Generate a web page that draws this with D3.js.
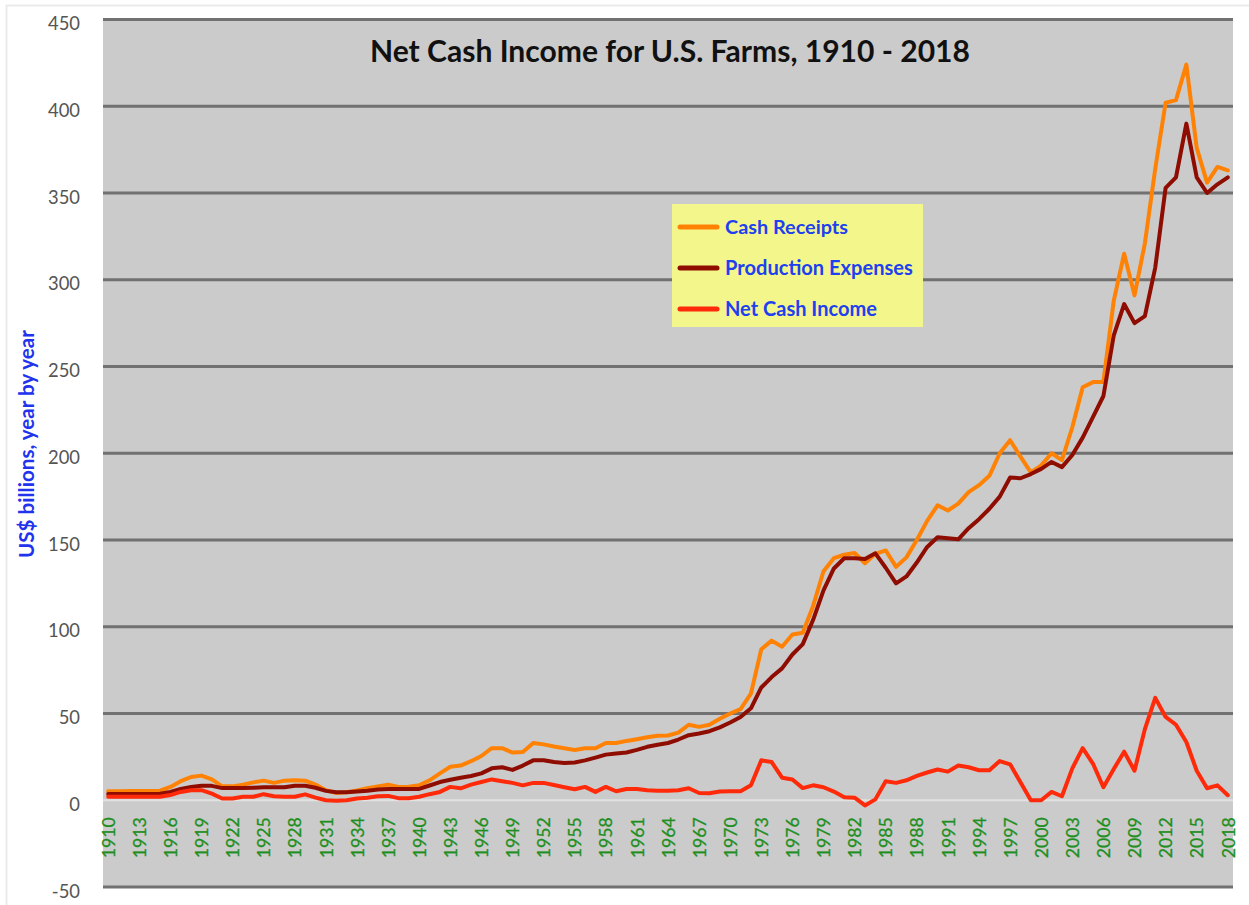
<!DOCTYPE html>
<html>
<head>
<meta charset="utf-8">
<script src="https://cdn.jsdelivr.net/npm/d3@7"></script>
<style>
  html, body { margin: 0; padding: 0; background: #ffffff; }
  svg { display: block; }
</style>
</head>
<body>
<svg id="chart" width="1249" height="905"></svg>
<script>
// ---------------- DATA ----------------
const years = d3.range(1910, 2019);

const cashReceipts = [
  5.2, 5.2, 5.3, 5.3, 5.3, 5.5, 7.7, 11.0, 13.4, 14.2,          // 1910-1919
  12.0, 8.0, 8.0, 9.0, 10.3, 11.3, 10.0, 11.3, 11.5, 11.3,      // 1920-1929
  9.0, 5.8, 4.2, 4.6, 5.6, 7.0, 8.0, 9.0, 7.6, 7.8,             // 1930-1939
  8.6, 11.5, 15.5, 19.3, 20.0, 22.5, 25.5, 30.0, 30.0, 27.5,    // 1940-1949
  27.8, 33.0, 32.2, 31.0, 30.0, 29.0, 30.0, 30.0, 33.0, 33.0,   // 1950-1959
  34.2, 35.2, 36.3, 37.2, 37.3, 39.0, 43.5, 42.3, 43.5, 47.0,   // 1960-1969
  50.0, 52.5, 61.5, 87.0, 92.0, 88.5, 95.5, 96.5, 112.0, 132.0, // 1970-1979
  139.5, 141.5, 142.5, 136.6, 142.0, 144.0, 134.5, 140.0, 150.0, 161.0, // 1980-1989
  170.0, 167.0, 171.0, 177.6, 181.6, 187.0, 200.0, 207.5, 198.0, 189.0, // 1990-1999
  193.0, 200.0, 196.0, 215.0, 238.0, 241.0, 241.0, 288.0, 315.0, 291.0, // 2000-2009
  321.0, 364.0, 402.0, 403.5, 424.0, 376.0, 356.0, 365.0, 363.0         // 2010-2018
];

const productionExpenses = [
  3.6, 3.6, 3.6, 3.6, 3.6, 3.7, 4.8, 6.5, 7.6, 8.4,
  8.3, 7.0, 7.0, 7.0, 7.2, 7.5, 7.5, 7.5, 8.4, 8.4,
  7.2, 5.4, 4.6, 4.6, 5.0, 5.5, 6.2, 6.5, 6.5, 6.5,
  6.5, 8.5, 10.5, 11.8, 13.0, 14.0, 15.5, 18.4, 19.0, 17.5,
  20.0, 23.0, 23.0, 22.0, 21.5, 21.8, 23.0, 24.6, 26.3, 27.0,
  27.5, 29.0, 30.8, 32.0, 33.0, 35.0, 37.5, 38.5, 39.8, 42.0,
  44.8, 48.0, 53.0, 65.0, 71.0, 76.0, 84.0, 90.0, 104.0, 121.0,
  133.6, 139.5, 139.5, 139.0, 142.3, 134.0, 125.0, 129.0, 137.0, 146.0,
  151.6, 151.0, 150.4, 156.8, 162.0, 168.0, 175.0, 186.0, 185.6, 188.0,
  191.0, 195.0, 192.0, 199.0, 209.0, 221.0, 233.0, 268.0, 286.0, 275.0,
  279.0, 307.0, 353.0, 359.0, 390.0, 359.0, 350.0, 355.0, 359.0
];

const netCashIncome = [
  2.0, 2.0, 2.0, 2.0, 2.0, 2.0, 3.0, 4.8, 5.8, 5.8,
  3.8, 1.0, 1.0, 2.0, 2.0, 3.5, 2.3, 2.0, 2.0, 3.4,
  1.5, 0.0, -0.3, 0.0, 1.0, 1.5, 2.3, 2.5, 1.2, 1.2,
  2.0, 3.5, 4.8, 7.7, 6.9, 9.0, 10.5, 12.0, 11.0, 10.0,
  8.6, 10.0, 10.0, 8.8, 7.5, 6.3, 7.7, 4.8, 7.7, 5.2,
  6.5, 6.5, 5.8, 5.5, 5.5, 5.8, 6.9, 4.2, 4.0, 5.0,
  5.2, 5.2, 8.6, 23.0, 22.0, 13.0, 12.0, 7.0, 8.6, 7.5,
  5.0, 1.7, 1.5, -3.0, 0.5, 11.0, 10.0, 11.5, 14.0, 16.0,
  17.7, 16.5, 20.0, 19.0, 17.3, 17.3, 22.6, 20.7, 10.4, 0.0,
  0.0, 4.8, 2.3, 18.4, 30.0, 21.0, 7.5, 18.0, 28.0, 17.0,
  41.0, 59.0, 48.0, 43.5, 33.6, 17.0, 6.9, 8.6, 2.9
];

const yTicks = [-50, 0, 50, 100, 150, 200, 250, 300, 350, 400, 450];
const xTickYears = years.filter(y => (y - 1910) % 3 === 0);

const seriesNames = ["Cash Receipts", "Production Expenses", "Net Cash Income"];
const seriesColors = ["#ff8205", "#8f0c00", "#ff2a0a"];
const chartTitle = "Net Cash Income for U.S. Farms, 1910 - 2018";
const yAxisTitle = "US$ billions, year by year";

// ---------------- LAYOUT ----------------
const svg = d3.select("#chart");
const plot = { left: 103, right: 1233, top: 19.5, bottom: 887 };

const x = d3.scalePoint().domain(years).range([plot.left, plot.right]).padding(0.5);
const y = d3.scaleLinear().domain([-50, 450]).range([plot.bottom, plot.top]);

function fitWidth(sel, target) {
  const node = sel.node();
  const fs = parseFloat(sel.attr("font-size"));
  const w = node.getComputedTextLength();
  if (w > 0) sel.attr("font-size", (fs * target / w).toFixed(2));
  return sel;
}
function fitSize(family, weight, sample, target, base) {
  const t = svg.append("text").attr("font-family", family).attr("font-weight", weight)
    .attr("font-size", base).text(sample);
  const w = t.node().getComputedTextLength();
  t.remove();
  return w > 0 ? base * target / w : base;
}

const FONT = "Lato, 'Open Sans', sans-serif";

// outer frame
svg.append("rect")
  .attr("x", 6.5).attr("y", 5.5)
  .attr("width", 1260).attr("height", 920)
  .attr("fill", "#ffffff").attr("stroke", "#ebebeb").attr("stroke-width", 2);

// plot background
svg.append("rect")
  .attr("x", plot.left).attr("y", plot.top)
  .attr("width", plot.right - plot.left).attr("height", plot.bottom - plot.top)
  .attr("fill", "#cbcbcb");

// gridlines
svg.append("g").selectAll("line")
  .data(yTicks)
  .join("line")
  .attr("x1", plot.left).attr("x2", plot.right)
  .attr("y1", d => y(d)).attr("y2", d => y(d))
  .attr("stroke", d => d === 0 ? "#e2e2e2" : "#717171")
  .attr("stroke-width", d => d === 0 ? 2 : 3);

// y tick labels via axis
const yFs = fitSize(FONT, "normal", "450", 32, 18);
const yAxis = d3.axisLeft(y).tickValues(yTicks).tickSize(0).tickPadding(0)
  .tickFormat(d => String(d));
const gy = svg.append("g").attr("transform", "translate(80,0)").call(yAxis);
gy.select(".domain").remove();
gy.selectAll("text")
  .attr("font-family", FONT)
  .attr("font-size", yFs)
  .attr("fill", "#555555")
  .attr("dy", "0.55em")
  .attr("text-anchor", "end");

// x tick labels via axis
const xFs = fitSize(FONT, "normal", "1910", 41, 17.5);
const xAxis = d3.axisBottom(x).tickValues(xTickYears).tickSize(0).tickPadding(0);
const gx = svg.append("g").attr("transform", `translate(0,${y(0)})`).call(xAxis);
gx.select(".domain").remove();
gx.selectAll("text")
  .attr("font-family", FONT)
  .attr("font-size", xFs)
  .attr("fill", "#1f8f1f")
  .attr("stroke", "#1f8f1f")
  .attr("stroke-width", 0.3)
  .attr("text-anchor", "end")
  .attr("dy", "0.35em")
  .attr("transform", "translate(0,17) rotate(-90)")
  .attr("x", 0).attr("y", 0);

// lines
const allSeries = [cashReceipts, productionExpenses, netCashIncome];
const line = d3.line()
  .x((d, i) => x(years[i]))
  .y(d => y(d));

svg.append("g").selectAll("path")
  .data(allSeries)
  .join("path")
  .attr("d", d => line(d))
  .attr("fill", "none")
  .attr("stroke", (d, i) => seriesColors[i])
  .attr("stroke-width", 4)
  .attr("stroke-linejoin", "round")
  .attr("stroke-linecap", "round");

// title
const title = svg.append("text")
  .attr("x", 670).attr("y", 62)
  .attr("text-anchor", "middle")
  .attr("font-family", FONT)
  .attr("font-weight", "bold")
  .attr("font-size", 24)
  .attr("fill", "#111111")
  .text(chartTitle);
fitWidth(title, 600);

// y axis title
const yTitle = svg.append("text")
  .attr("transform", "translate(34,444) rotate(-90)")
  .attr("text-anchor", "middle")
  .attr("font-family", FONT)
  .attr("font-weight", "bold")
  .attr("font-size", 16)
  .attr("fill", "#2233ee")
  .text(yAxisTitle);
fitWidth(yTitle, 228);

// legend
const legend = svg.append("g");
legend.append("rect")
  .attr("x", 672).attr("y", 204)
  .attr("width", 251).attr("height", 123)
  .attr("fill", "#f3f78b");

const rowY = [227, 268, 309];
const textW = [123, 188, 152];
const items = legend.selectAll("g.item")
  .data(seriesNames)
  .join("g").attr("class", "item");
items.append("line")
  .attr("x1", 680).attr("x2", 717)
  .attr("y1", (d, i) => rowY[i]).attr("y2", (d, i) => rowY[i])
  .attr("stroke", (d, i) => seriesColors[i])
  .attr("stroke-width", 5)
  .attr("stroke-linecap", "round");
items.append("text")
  .attr("x", 725)
  .attr("y", (d, i) => rowY[i] + 7)
  .attr("font-family", FONT)
  .attr("font-weight", "bold")
  .attr("font-size", 17)
  .attr("fill", "#2040f0")
  .text(d => d)
  .each(function(d, i) { fitWidth(d3.select(this), textW[i]); });
</script>
</body>
</html>
